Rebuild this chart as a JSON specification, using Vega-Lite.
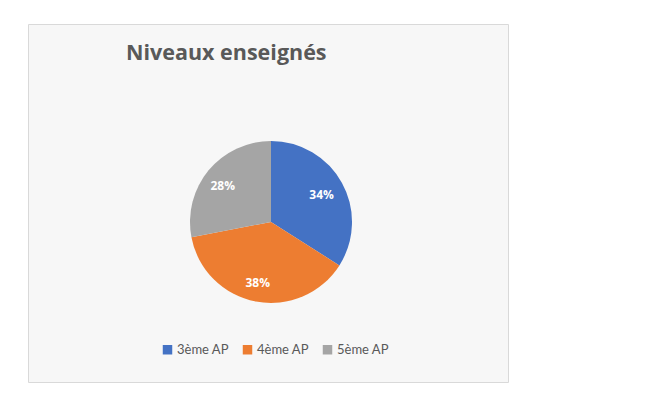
{
  "$schema": "https://vega.github.io/schema/vega-lite/v6.json",
  "autosize": "none",
  "width": 480,
  "height": 358,
  "padding": {"left": 28, "top": 24, "right": 145, "bottom": 21},
  "background": "white",
  "view": {"fill": "#f7f7f7", "stroke": "#d9d9d9", "strokeWidth": 1},
  "data": {"values": [
    {"niveau": "3ème AP", "pct": 34, "label": "34%"},
    {"niveau": "4ème AP", "pct": 38, "label": "38%"},
    {"niveau": "5ème AP", "pct": 28, "label": "28%"}
  ]},
  "title": {
    "text": "Niveaux enseignés",
    "anchor": "start",
    "frame": "group",
    "dx": 98,
    "dy": 57,
    "offset": 0,
    "font": "Open Sans",
    "fontSize": 21.5,
    "fontWeight": "bold",
    "color": "#595959",
    "baseline": "alphabetic"
  },
  "encoding": {
    "theta": {"field": "pct", "type": "quantitative", "stack": true},
    "order": {"field": "niveau", "type": "nominal"}
  },
  "layer": [
    {
      "mark": {"type": "arc", "outerRadius": 81, "yOffset": 19, "xOffset": 3},
      "encoding": {
        "color": {
          "field": "niveau",
          "type": "nominal",
          "scale": {"domain": ["3ème AP", "4ème AP", "5ème AP"], "range": ["#4472C4", "#ED7D31", "#A5A5A5"]},
          "legend": {
            "title": null,
            "orient": "none",
            "direction": "horizontal",
            "legendX": 133,
            "legendY": 319,
            "symbolType": "square",
            "symbolSize": 90,
            "symbolStrokeWidth": 0,
            "labelFont": "Lato",
            "labelFontSize": 13,
            "labelColor": "#595959",
            "columnPadding": 12,
            "labelOffset": 3
          }
        }
      }
    },
    {
      "mark": {"type": "text", "radius": 60, "yOffset": 21, "xOffset": 1, "font": "Open Sans", "fontSize": 12, "fontWeight": "bold", "fill": "white"},
      "encoding": {"text": {"field": "label"}}
    }
  ]
}
